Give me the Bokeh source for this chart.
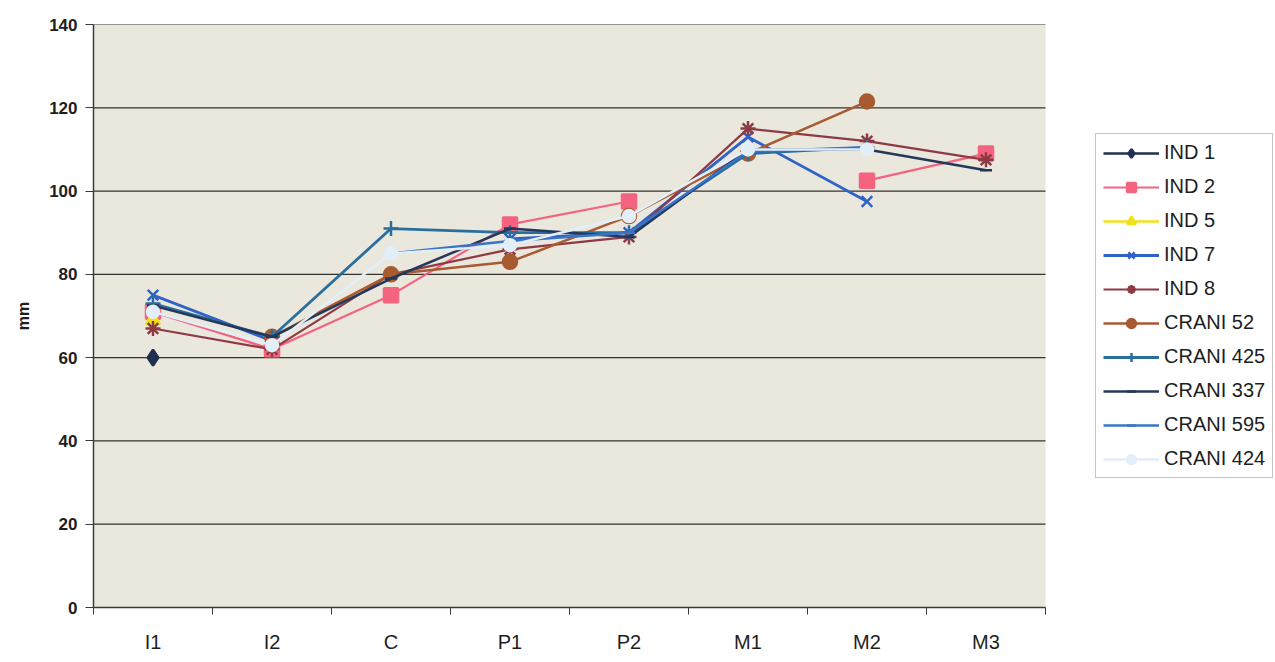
import math
from bokeh.plotting import figure
from bokeh.models import Range1d, FixedTicker, Legend, LegendItem, ColumnDataSource
from bokeh.embed import file_html
from bokeh.resources import INLINE

nan = float("nan")

categories = ["I1", "I2", "C", "P1", "P2", "M1", "M2", "M3"]
y_ticks = [0, 20, 40, 60, 80, 100, 120, 140]

ind1 = [60, nan, nan, nan, nan, nan, nan, nan]
ind2 = [71, 62, 75, 92, 97.5, nan, 102.5, 109]
ind5 = [69, nan, nan, nan, nan, nan, nan, nan]
ind7 = [75, 64, nan, 88.5, 90, 113, 97.5, nan]
ind8 = [67, 62, 80, 86, 89, 115, 112, 107.5]
crani52 = [nan, 65, 80, 83, 94, 109, 121.5, nan]
crani425 = [73, 65, 91, 90, 90, 109, 110.5, nan]
crani337 = [72.5, 65, 79, 91, 89, 110, 110, 105]
crani595 = [nan, nan, 85, 88, 90, 109.5, 110.5, nan]
crani424 = [71, 63, 85, 87, 94, 110, 110, nan]

series_names = ["IND 1", "IND 2", "IND 5", "IND 7", "IND 8",
                "CRANI 52", "CRANI 425", "CRANI 337", "CRANI 595", "CRANI 424"]
series_values = [ind1, ind2, ind5, ind7, ind8,
                 crani52, crani425, crani337, crani595, crani424]

styles = {
    "IND 1": dict(color="#1F3050", marker="diamond", size=16, lw=2.5),
    "IND 2": dict(color="#F4637F", marker="square", size=14, lw=2.2),
    "IND 5": dict(color="#F2E01A", marker="triangle", size=14, lw=2.5),
    "IND 7": dict(color="#2F63C8", marker="x", size=15, lw=2.8),
    "IND 8": dict(color="#8E3A44", marker="asterisk", size=15, lw=2.2),
    "CRANI 52": dict(color="#A85A30", marker="circle", size=14, lw=2.5),
    "CRANI 425": dict(color="#2A6E9E", marker="cross", size=15, lw=2.8),
    "CRANI 337": dict(color="#24385A", marker="dash", size=12, lw=2.5),
    "CRANI 595": dict(color="#3A74C8", marker="dash", size=12, lw=2.5),
    "CRANI 424": dict(color="#E2EEF8", marker="circle", size=12, lw=2.5),
}

n = len(categories)
xs = [i + 0.5 for i in range(n)]

# frame spans 93..1275 px; plot area (categories) spans 93..1045 px
FRAME_LEFT, AREA_RIGHT, WIDTH = 93, 1045, 1275
x_end = n * (WIDTH - FRAME_LEFT) / (AREA_RIGHT - FRAME_LEFT)

p = figure(width=WIDTH, height=662, output_backend="svg", toolbar_location=None,
           x_range=Range1d(0, x_end), y_range=Range1d(0, 140),
           min_border_left=FRAME_LEFT, min_border_right=0, min_border_top=24,
           min_border_bottom=55)
p.outline_line_color = None
p.background_fill_color = "#FFFFFF"
p.border_fill_color = "#FFFFFF"
p.xgrid.visible = False
p.ygrid.visible = False

# plot area background and horizontal gridlines limited to the category span
p.quad(left=[0], right=[n], bottom=[y_ticks[0]], top=[y_ticks[-1]],
       fill_color="#EAE7DD", line_color=None, level="underlay")
p.segment(x0=[0] * (len(y_ticks) - 1), x1=[n] * (len(y_ticks) - 1),
          y0=y_ticks[1:], y1=y_ticks[1:], line_color="#33332F",
          line_width=1.2, level="underlay")

p.xaxis.bounds = (0, n)
p.xaxis.ticker = FixedTicker(ticks=xs, minor_ticks=list(range(n + 1)))
p.xaxis.major_label_overrides = {x: c for x, c in zip(xs, categories)}
p.xaxis.major_tick_out = 0
p.xaxis.major_tick_in = 0
p.xaxis.minor_tick_out = 7
p.xaxis.minor_tick_in = 0
p.xaxis.minor_tick_line_color = "#3A3A36"
p.xaxis.axis_line_color = "#3A3A36"
p.xaxis.axis_line_width = 1.5
p.xaxis.major_label_text_font = "Liberation Sans"
p.xaxis.major_label_text_font_size = "20px"
p.xaxis.major_label_text_color = "#1E1E1E"
p.xaxis.major_label_standoff = 16

p.yaxis.ticker = FixedTicker(ticks=y_ticks)
p.yaxis.major_tick_out = 8
p.yaxis.major_tick_in = 0
p.yaxis.minor_tick_out = 0
p.yaxis.major_tick_line_color = "#3A3A36"
p.yaxis.axis_line_color = "#3A3A36"
p.yaxis.axis_line_width = 1.5
p.yaxis.major_label_text_font = "Liberation Sans"
p.yaxis.major_label_text_font_style = "bold"
p.yaxis.major_label_text_font_size = "17px"
p.yaxis.major_label_text_color = "#1E1E1E"
p.yaxis.major_label_standoff = 8
p.yaxis.axis_label = "mm"
p.yaxis.axis_label_text_font = "Liberation Sans"
p.yaxis.axis_label_text_font_style = "bold"
p.yaxis.axis_label_text_font_size = "16px"
p.yaxis.axis_label_text_color = "#1E1E1E"
p.yaxis.axis_label_standoff = 14

items = []
for name, vals in zip(series_names, series_values):
    st = styles[name]
    src = ColumnDataSource(dict(x=xs, y=vals))
    ln = p.line("x", "y", source=src, line_color=st["color"], line_width=st["lw"])
    mk = p.scatter("x", "y", source=src, marker=st["marker"], size=st["size"],
                   fill_color=st["color"], line_color=st["color"], line_width=2.5)
    items.append(LegendItem(label=name, renderers=[ln, mk]))

legend = Legend(items=items, location=(1095 - FRAME_LEFT, 129))
legend.background_fill_color = "#FFFFFF"
legend.background_fill_alpha = 1
legend.border_line_color = "#8A8A8A"
legend.border_line_width = 1.2
legend.label_text_font = "Liberation Sans"
legend.label_text_font_size = "20px"
legend.label_text_color = "#1E1E1E"
legend.glyph_width = 56
legend.glyph_height = 22
legend.label_height = 22
legend.spacing = 11
legend.padding = 7
legend.margin = 0
legend.label_standoff = 5
p.add_layout(legend)

open("out.html", "w").write(file_html(p, INLINE))
